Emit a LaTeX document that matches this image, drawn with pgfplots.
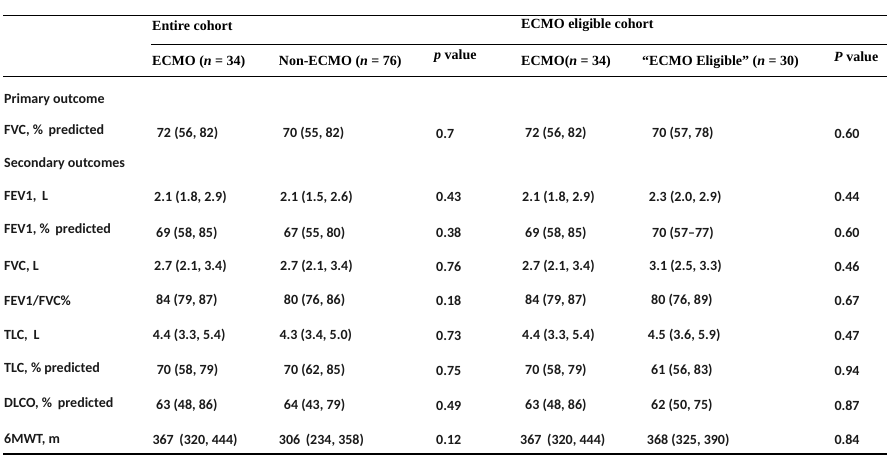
\documentclass[border=0pt]{standalone}
\usepackage{pgfplots}
\pgfplotsset{compat=1.18}
\usepackage{pgfplotstable}
\usepackage{fontspec}
\setmainfont{Liberation Serif}
\newfontfamily\bodyfont{Carlito}
\definecolor{bodytext}{HTML}{1A1A1A}
\newcommand{\wsp}{\ \hspace{2.5pt}}

% header cells (x = left edge, y = centre, pixels from top)
\pgfplotstableread[col sep=semicolon]{
x;y;label
152;26;Entire cohort
521;25.5;ECMO eligible cohort
152;62.5;ECMO (\textit{n} = 34)
278.7;62.5;Non-ECMO (\textit{n} = 76)
434;56.5;\textit{p} value
521;62.5;ECMO(\textit{n} = 34)
642;62.5;“ECMO Eligible” (\textit{n} = 30)
834;57;\textit{P} value
}\headers

% row labels
\pgfplotstableread[col sep=semicolon]{
x;y;label
4;99.3;Primary outcome
4;130.7;FVC, \%\wsp predicted
4;163.3;Secondary outcomes
4;197.3;FEV1,\wsp L
4;229.3;FEV1, \%\wsp predicted
4;266.7;FVC, L
4;300.7;FEV1/FVC\%
4;335.7;TLC,\wsp L
4;368.7;TLC, \% predicted
4;403.3;DLCO, \%\wsp predicted
4;440;6MWT, m
}\rowlabels

% cell values
\pgfplotstableread[col sep=semicolon]{
x;y;label
156.7;133.5;72 (56, 82)
282.7;133.5;70 (55, 82)
436;133.5;0.7
525;133.5;72 (56, 82)
652;133.5;70 (57, 78)
834.3;133.5;0.60
154;197.3;2.1 (1.8, 2.9)
280;197.3;2.1 (1.5, 2.6)
436;197.3;0.43
522;197.3;2.1 (1.8, 2.9)
648.7;197.3;2.3 (2.0, 2.9)
834.3;197.3;0.44
156;233;69 (58, 85)
283.7;233;67 (55, 80)
436;233;0.38
525;233;69 (58, 85)
652;233;70 (57–77)
834.3;233;0.60
154;266.7;2.7 (2.1, 3.4)
280;266.7;2.7 (2.1, 3.4)
436;266.7;0.76
522;266.7;2.7 (2.1, 3.4)
649;266.7;3.1 (2.5, 3.3)
834.3;266.7;0.46
156;300.7;84 (79, 87)
283.7;300.7;80 (76, 86)
436;300.7;0.18
525;300.7;84 (79, 87)
651;300.7;80 (76, 89)
834.3;300.7;0.67
152.7;335.7;4.4 (3.3, 5.4)
279.3;335.7;4.3 (3.4, 5.0)
436;335.7;0.73
522;335.7;4.4 (3.3, 5.4)
647.7;335.7;4.5 (3.6, 5.9)
834.3;335.7;0.47
156.7;370.7;70 (58, 79)
283.7;370.7;70 (62, 85)
436;370.7;0.75
525;370.7;70 (58, 79)
651;370.7;61 (56, 83)
834.3;370.7;0.94
156;405.7;63 (48, 86)
283.7;405.7;64 (43, 79)
436;405.7;0.49
525;405.7;63 (48, 86)
651;405.7;62 (50, 75)
834.3;405.7;0.87
152.3;440;367\wsp (320, 444)
278.7;440;306\wsp (234, 358)
436;440;0.12
520;440;367\wsp (320, 444)
646.7;440;368 (325, 390)
834.3;440;0.84
}\cells

\begin{document}
\begin{tikzpicture}
\begin{axis}[
  scale only axis, width=892pt, height=459pt,
  xmin=0, xmax=892, ymin=0, ymax=459, y dir=reverse,
  axis lines=none, clip=false,
  every axis plot/.append style={line cap=rect},
]
% keep the page the size of the picture
\addplot[draw=none] coordinates {(0,0) (892,459)};

% rules
\addplot[black, line width=1.1pt] coordinates {(4,15.7) (886.7,15.7)};
\addplot[black, line width=1.1pt] coordinates {(152,44.3) (886.7,44.3)};
\addplot[black, line width=1.1pt] coordinates {(4,76.3) (886.7,76.3)};
\addplot[black, line width=1.1pt] coordinates {(4,454) (886.7,454)};

% text
\addplot[only marks, mark=none, nodes near coords, point meta=explicit symbolic,
  nodes near coords style={anchor=west, inner sep=0pt, text=black,
    font=\fontsize{14}{16}\selectfont\bfseries}]
  table[x=x, y=y, meta=label] {\headers};
\addplot[only marks, mark=none, nodes near coords, point meta=explicit symbolic,
  nodes near coords style={anchor=west, inner sep=0pt, text=bodytext,
    font=\bodyfont\fontsize{14}{16}\selectfont\bfseries}]
  table[x=x, y=y, meta=label] {\rowlabels};
\addplot[only marks, mark=none, nodes near coords, point meta=explicit symbolic,
  nodes near coords style={anchor=west, inner sep=0pt, text=bodytext,
    font=\bodyfont\fontsize{14}{16}\selectfont\bfseries}]
  table[x=x, y=y, meta=label] {\cells};
\end{axis}
\end{tikzpicture}
\end{document}
